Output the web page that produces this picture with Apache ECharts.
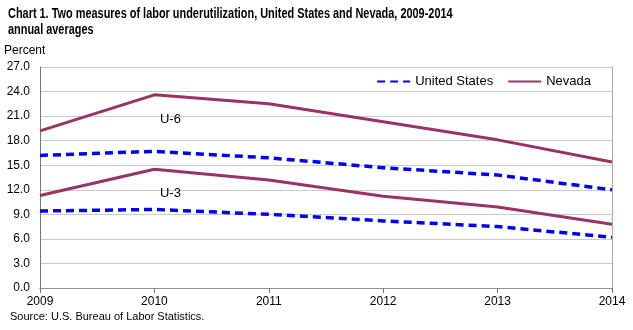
<!DOCTYPE html>
<html><head><meta charset="utf-8">
<script src="https://cdn.jsdelivr.net/npm/echarts@6/dist/echarts.min.js"></script>
<style>html,body{margin:0;padding:0;background:#fff}#c{width:633px;height:330px}</style>
</head><body><div id="c"></div>
<script>
const years = ['2009','2010','2011','2012','2013','2014'];
const usU6 = [16.2, 16.7, 15.9, 14.7, 13.8, 12.0];
const nvU6 = [19.2, 23.6, 22.5, 20.3, 18.1, 15.4];
const usU3 = [9.4, 9.6, 9.0, 8.2, 7.5, 6.2];
const nvU3 = [11.3, 14.5, 13.2, 11.2, 9.9, 7.8];
const yTicks = [0, 3, 6, 9, 12, 15, 18, 21, 24, 27];
const titleText = 'Chart 1. Two measures of labor underutilization, United States and Nevada, 2009-2014\nannual averages';

const chart = echarts.init(document.getElementById('c'), null, {renderer:'canvas'});
const font = 'Arial, "Liberation Sans", sans-serif';
const usStyle = {color:'#0000ff', width:3.5, type:[8,5]};
const nvStyle = {color:'#993366', width:3};
const labelPt = (txt, y) => ({symbol:'circle', symbolSize:1, itemStyle:{color:'rgba(0,0,0,0)'},
  label:{show:true, position:'inside', offset:[16,0], color:'#000', fontSize:13, fontFamily:font, formatter:txt},
  data:[{coord:['2010', y]}]});
chart.setOption({
  animation:false,
  textStyle:{fontFamily:font},
  graphic:[{type:'text', x:8, y:6, scaleX:0.78, style:{text:titleText, font:'bold 14px Arial, "Liberation Sans", sans-serif', fill:'#000', lineHeight:16, verticalAlign:'top'}}],
  title:[
    {text:'Percent', left:4, top:45, padding:0, textStyle:{fontSize:12, fontWeight:'normal', color:'#000', fontFamily:font}},
    {text:'Source: U.S. Bureau of Labor Statistics.', left:10, top:311, padding:0, textStyle:{fontSize:11, fontWeight:'normal', color:'#000', fontFamily:font}}
  ],
  legend:{right:37, top:70, itemWidth:33, itemHeight:10, itemGap:14,
    textStyle:{fontSize:13, color:'#000', fontFamily:font},
    itemStyle:{opacity:0},
    data:[{name:'United States'},{name:'Nevada'}]},
  grid:{left:40, right:21, top:67, bottom:42, containLabel:false},
  xAxis:[{type:'category', data:years, boundaryGap:false,
    axisLine:{lineStyle:{color:'#777', width:1}},
    axisTick:{show:true, length:5, lineStyle:{color:'#777'}},
    axisLabel:{color:'#000', fontSize:12, margin:8, fontFamily:font}},
    {type:'category', data:years, boundaryGap:false, position:'top',
    axisLine:{lineStyle:{color:'#999', type:'dotted'}}, axisTick:{show:false}, axisLabel:{show:false}}],
  yAxis:[{type:'value', min:0, max:27, interval:3,
    axisLine:{show:true, lineStyle:{color:'#777'}},
    axisTick:{show:false},
    axisLabel:{color:'#000', fontSize:12, margin:10, fontFamily:font, formatter:v=>yTicks.includes(v)?v.toFixed(1):''},
    splitLine:{lineStyle:{color:'#c8ccc8', width:1}}},
    {type:'value', min:0, max:27, interval:3, position:'right',
    axisLine:{show:true, lineStyle:{color:'#999', type:'dotted'}}, axisTick:{show:false}, axisLabel:{show:false}, splitLine:{show:false}}],
  series:[
    {name:'United States', type:'line', data:usU6, symbol:'none', lineStyle:usStyle, itemStyle:{color:'#0000ff'}},
    {name:'Nevada', type:'line', data:nvU6, symbol:'none', lineStyle:nvStyle, itemStyle:{color:'#993366'},
      markPoint:labelPt('U-6', 20.6)},
    {name:'United States', type:'line', data:usU3, symbol:'none', lineStyle:usStyle, itemStyle:{color:'#0000ff'}},
    {name:'Nevada', type:'line', data:nvU3, symbol:'none', lineStyle:nvStyle, itemStyle:{color:'#993366'},
      markPoint:labelPt('U-3', 11.6)}
  ]
});
</script></body></html>
